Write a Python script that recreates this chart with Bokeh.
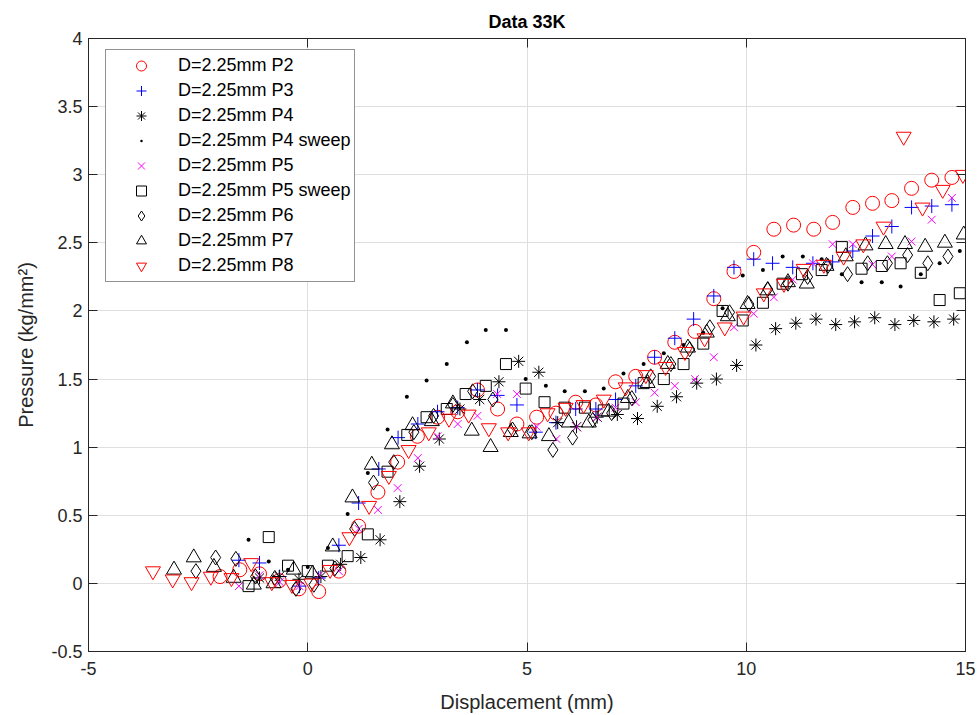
from bokeh.plotting import figure
from bokeh.models import LinearAxis, Legend, LegendItem, FixedTicker, Range1d
from bokeh.embed import file_html
from bokeh.resources import INLINE

title_text = "Data 33K"
x_label = "Displacement (mm)"
y_label = "Pressure (kg/mm²)"
x_ticks = [-5, 0, 5, 10, 15]
x_tick_labels = ["-5", "0", "5", "10", "15"]
y_ticks = [-0.5, 0, 0.5, 1, 1.5, 2, 2.5, 3, 3.5, 4]
y_tick_labels = ["-0.5", "0", "0.5", "1", "1.5", "2", "2.5", "3", "3.5", "4"]

# D=2.25mm P2
p2_x = [-2.0, -1.55, -1.1, -0.65, -0.2, 0.25, 0.71, 1.16, 1.6, 2.05, 2.5, 2.96, 3.42, 3.87, 4.33, 4.77,
        5.22, 5.66, 6.11, 6.57, 7.02, 7.48, 7.91, 8.37, 8.83, 9.26, 9.72, 10.17, 10.63, 11.08, 11.54,
        11.97, 12.43, 12.88, 13.32, 13.77, 14.23, 14.69]
p2_y = [0.05, 0.10, 0.07, 0.02, -0.04, -0.06, 0.09, 0.42, 0.67, 0.89, 1.08, 1.22, 1.26, 1.42, 1.28, 1.17,
        1.22, 1.25, 1.33, 1.31, 1.48, 1.52, 1.66, 1.77, 1.85, 2.09, 2.29, 2.43, 2.60, 2.63, 2.60,
        2.65, 2.76, 2.79, 2.81, 2.90, 2.96, 2.98]

# D=2.25mm P3
p3_x = [-1.57, -1.1, -0.64, -0.19, 0.25, 0.71, 1.16, 1.62, 2.06, 2.51, 2.96, 3.42, 3.87, 4.33, 4.77, 5.2,
        5.66, 6.11, 6.57, 7.02, 7.48, 7.91, 8.37, 8.8, 9.26, 9.72, 10.17, 10.6, 11.06, 11.52, 11.97,
        12.43, 12.88, 13.32, 13.77, 14.23, 14.69]
p3_y = [0.17, 0.15, 0.05, -0.02, 0.04, 0.28, 0.59, 0.84, 1.07, 1.17, 1.26, 1.29, 1.42, 1.38, 1.31, 1.11,
        1.18, 1.28, 1.28, 1.35, 1.45, 1.66, 1.80, 1.94, 2.11, 2.32, 2.38, 2.35, 2.32, 2.35, 2.36,
        2.44, 2.55, 2.62, 2.76, 2.77, 2.78]

# D=2.25mm P4
p4_x = [-1.1, -0.65, -0.2, 0.3, 0.75, 1.21, 1.65, 2.1, 2.55, 3.0, 3.47, 3.92, 4.36, 4.81, 5.27, 5.7,
        6.13, 6.6, 7.06, 7.52, 7.97, 8.41, 8.87, 9.32, 9.78, 10.22, 10.67, 11.13, 11.59, 12.04, 12.47,
        12.93, 13.39, 13.82, 14.28, 14.73]
p4_y = [0.04, 0.05, 0.03, 0.05, 0.14, 0.19, 0.32, 0.60, 0.86, 1.06, 1.28, 1.35, 1.48, 1.63, 1.55, 1.18,
        1.15, 1.22, 1.24, 1.21, 1.30, 1.37, 1.47, 1.50, 1.60, 1.75, 1.87, 1.91, 1.94, 1.90, 1.92,
        1.95, 1.90, 1.93, 1.92, 1.94]

# D=2.25mm P4 sweep
p4s_x = [-1.35, -0.89, -0.45, 0.0, 0.46, 0.91, 1.37, 1.82, 2.26, 2.71, 3.17, 3.63, 4.06, 4.52, 4.97, 5.43,
         5.86, 6.32, 6.75, 7.2, 7.66, 8.12, 8.57, 9.02, 9.46, 9.92, 10.38, 10.83, 11.29, 11.72, 12.18,
         12.63, 13.09, 13.52, 13.98, 14.41, 14.87]
p4s_y = [0.32, 0.16, 0.10, 0.12, 0.26, 0.51, 0.81, 1.13, 1.37, 1.49, 1.61, 1.77, 1.86, 1.86, 1.50, 1.45,
         1.41, 1.41, 1.43, 1.54, 1.61, 1.69, 1.75, 1.84, 2.02, 2.26, 2.30, 2.40, 2.40, 2.38, 2.27,
         2.21, 2.21, 2.18, 2.27, 2.35, 2.44]

# D=2.25mm P5
p5_x = [-1.57, -1.1, -0.64, -0.19, 0.26, 0.71, 1.16, 1.6, 2.05, 2.51, 2.96, 3.42, 3.87, 4.32, 4.77, 5.22,
        5.67, 6.13, 6.59, 7.02, 7.48, 7.91, 8.37, 8.83, 9.26, 9.72, 10.17, 10.63, 11.06, 11.52, 11.97,
        12.43, 12.88, 13.32, 13.77, 14.23, 14.69]
p5_y = [-0.02, 0.06, 0.01, -0.02, 0.06, 0.09, 0.40, 0.54, 0.70, 0.92, 1.08, 1.17, 1.23, 1.39, 1.39, 1.15,
        1.06, 1.15, 1.22, 1.29, 1.33, 1.40, 1.45, 1.50, 1.66, 1.88, 1.98, 2.10, 2.23, 2.35, 2.49,
        2.49, 2.34, 2.40, 2.51, 2.67, 2.83]

# D=2.25mm P5 sweep
p5s_x = [-1.35, -0.89, -0.45, 0.0, 0.46, 0.91, 1.37, 1.82, 2.27, 2.71, 3.17, 3.6, 4.06, 4.52, 4.97, 5.4,
         5.86, 6.32, 6.75, 7.2, 7.66, 8.12, 8.57, 9.02, 9.46, 9.92, 10.38, 10.83, 11.27, 11.72, 12.18,
         12.63, 13.09, 13.52, 13.98, 14.41, 14.87]
p5s_y = [-0.02, 0.34, 0.13, 0.09, 0.13, 0.20, 0.36, 0.82, 1.09, 1.22, 1.28, 1.39, 1.45, 1.61, 1.43, 1.33,
         1.29, 1.29, 1.27, 1.32, 1.47, 1.50, 1.61, 1.76, 2.00, 1.93, 2.06, 2.20, 2.27, 2.30, 2.47,
         2.31, 2.33, 2.35, 2.28, 2.08, 2.13]

# D=2.25mm P6
p6_x = [-2.55, -2.1, -1.64, -1.19, -0.75, -0.27, 0.14, 0.62, 1.07, 1.5, 1.96, 2.42, 2.87, 3.31, 3.76, 4.22,
        4.67, 5.11, 5.59, 6.04, 6.5, 6.93, 7.39, 7.82, 8.28, 8.71, 9.17, 9.62, 10.06, 10.49, 10.95,
        11.4, 11.86, 12.31, 12.77, 13.22, 13.68, 14.14, 14.6]
p6_y = [0.09, 0.19, 0.18, 0.05, 0.04, -0.04, -0.01, 0.11, 0.40, 0.74, 0.89, 1.11, 1.23, 1.31, 1.41, 1.35,
        1.13, 1.11, 0.98, 1.07, 1.20, 1.25, 1.36, 1.52, 1.61, 1.72, 1.88, 1.99, 2.05, 2.16, 2.20,
        2.25, 2.33, 2.27, 2.35, 2.35, 2.41, 2.35, 2.40]

# D=2.25mm P7
p7_x = [-3.05, -2.6, -2.14, -1.69, -1.23, -0.78, -0.32, 0.11, 0.57, 1.02, 1.46, 1.92, 2.39, 2.83, 3.31,
        3.74, 4.17, 4.63, 5.06, 5.5, 5.95, 6.41, 6.86, 7.3, 7.75, 8.21, 8.67, 9.1, 9.58, 10.03, 10.49,
        10.95, 11.38, 11.83, 12.27, 12.72, 13.18, 13.62, 14.08, 14.53, 14.96]
p7_y = [0.10, 0.19, 0.12, 0.04, -0.01, 0.00, 0.10, 0.07, 0.27, 0.63, 0.87, 1.02, 1.16, 1.19, 1.32,
        1.12, 1.00, 1.11, 1.10, 1.08, 1.18, 1.18, 1.26, 1.36, 1.47, 1.61, 1.73, 1.84, 1.96, 2.05, 2.15,
        2.21, 2.20, 2.33, 2.40, 2.48, 2.49, 2.49, 2.47, 2.50, 2.56]

# D=2.25mm P8
p8_x = [-3.53, -3.08, -2.65, -2.21, -1.74, -1.29, -0.82, -0.36, 0.08, 0.51, 0.95, 1.4, 1.85, 2.3, 2.76,
        3.22, 3.67, 4.13, 4.57, 5.04, 5.47, 5.88, 6.29, 6.75, 7.25, 7.71, 8.16, 8.6, 9.05, 9.51, 9.94,
        10.4, 10.86, 11.31, 11.77, 12.22, 12.67, 13.13, 13.59, 14.02, 14.48, 14.94]
p8_y = [0.09, 0.03, 0.01, 0.05, 0.04, 0.15, 0.01, -0.01, 0.00, 0.10, 0.34, 0.57, 0.79, 0.98, 1.11,
        1.21, 1.24, 1.14, 1.11, 1.11, 1.25, 1.29, 1.31, 1.35, 1.44, 1.53, 1.59, 1.70, 1.80, 1.88, 1.96,
        2.13, 2.20, 2.31, 2.34, 2.40, 2.49, 2.62, 3.28, 2.76, 2.89, 3.00]

series_labels = ["D=2.25mm P2", "D=2.25mm P3", "D=2.25mm P4", "D=2.25mm P4 sweep", "D=2.25mm P5",
                 "D=2.25mm P5 sweep", "D=2.25mm P6", "D=2.25mm P7", "D=2.25mm P8"]
series_x = [p2_x, p3_x, p4_x, p4s_x, p5_x, p5s_x, p6_x, p7_x, p8_x]
series_y = [p2_y, p3_y, p4_y, p4s_y, p5_y, p5s_y, p6_y, p7_y, p8_y]

styles = [
    dict(marker="circle", line_color="#ff0000", size=14),
    dict(marker="cross", line_color="#0000ff", size=14),
    dict(marker="asterisk", line_color="#000000", size=13),
    dict(marker="dot", line_color="#000000", size=16),
    dict(marker="x", line_color="#ff00ff", size=11),
    dict(marker="square", line_color="#000000", size=11),
    dict(marker="diamond", line_color="#000000", size=15),
    dict(marker="triangle", line_color="#000000", size=15),
    dict(marker="inverted_triangle", line_color="#ff0000", size=15),
]

FONT = "Liberation Sans"
AX = "#262626"

p = figure(width=979, height=715, x_range=Range1d(-5, 15), y_range=Range1d(-0.5, 4),
           output_backend="svg", toolbar_location=None,
           min_border_left=88, min_border_right=14, min_border_top=38, min_border_bottom=63)
p.background_fill_color = "white"
p.border_fill_color = "white"
p.outline_line_color = AX
p.outline_line_width = 1

p.title.text = title_text
p.title.align = "center"
p.title.text_font = FONT
p.title.text_font_size = "18px"
p.title.text_font_style = "bold"
p.title.text_color = "#000000"
p.title.standoff = 14

for ax in (p.xaxis[0], p.yaxis[0]):
    ax.axis_line_color = AX
    ax.major_tick_line_color = AX
    ax.major_tick_in = 9
    ax.major_tick_out = 0
    ax.minor_tick_line_color = None
    ax.major_label_text_font = FONT
    ax.major_label_text_font_size = "18px"
    ax.major_label_text_color = AX
    ax.axis_label_text_font = FONT
    ax.axis_label_text_font_size = "20px"
    ax.axis_label_text_font_style = "normal"
    ax.axis_label_text_color = AX

p.xaxis[0].ticker = FixedTicker(ticks=x_ticks)
p.xaxis[0].major_label_overrides = {t: l for t, l in zip(x_ticks, x_tick_labels)}
p.xaxis[0].axis_label = x_label
p.xaxis[0].major_label_standoff = 10
p.xaxis[0].axis_label_standoff = 13

p.yaxis[0].ticker = FixedTicker(ticks=y_ticks)
p.yaxis[0].major_label_overrides = {t: l for t, l in zip(y_ticks, y_tick_labels)}
p.yaxis[0].axis_label = y_label
p.yaxis[0].major_label_standoff = 6
p.yaxis[0].axis_label_standoff = 11

for loc, ticks in (("above", x_ticks), ("right", y_ticks)):
    a = LinearAxis(ticker=FixedTicker(ticks=ticks))
    a.major_label_overrides = {t: "" for t in ticks}
    a.major_label_text_font_size = "0px"
    a.major_label_standoff = 0
    a.axis_line_color = AX
    a.major_tick_line_color = AX
    a.major_tick_in = 9
    a.major_tick_out = 0
    a.minor_tick_line_color = None
    p.add_layout(a, loc)

p.xgrid.ticker = FixedTicker(ticks=x_ticks)
p.ygrid.ticker = FixedTicker(ticks=y_ticks)
p.xgrid.grid_line_color = "#dfdfdf"
p.ygrid.grid_line_color = "#dfdfdf"

items = []
for lab, xs, ys, st in zip(series_labels, series_x, series_y, styles):
    r = p.scatter(x=xs, y=ys, marker=st["marker"], size=st["size"], line_color=st["line_color"],
                  fill_color=None, line_width=1)
    items.append(LegendItem(label=lab, renderers=[r]))

legend = Legend(items=items, location=(17, 369))
legend.label_text_font = FONT
legend.label_text_font_size = "18px"
legend.label_text_color = "#000000"
legend.glyph_width = 64
legend.glyph_height = 25
legend.label_height = 25
legend.spacing = 0
legend.padding = 3
legend.margin = 0
legend.label_standoff = 5
legend.border_line_color = AX
legend.border_line_width = 1
legend.background_fill_color = "white"
legend.background_fill_alpha = 1
p.add_layout(legend)

open("out.html", "w").write(file_html(p, INLINE))
